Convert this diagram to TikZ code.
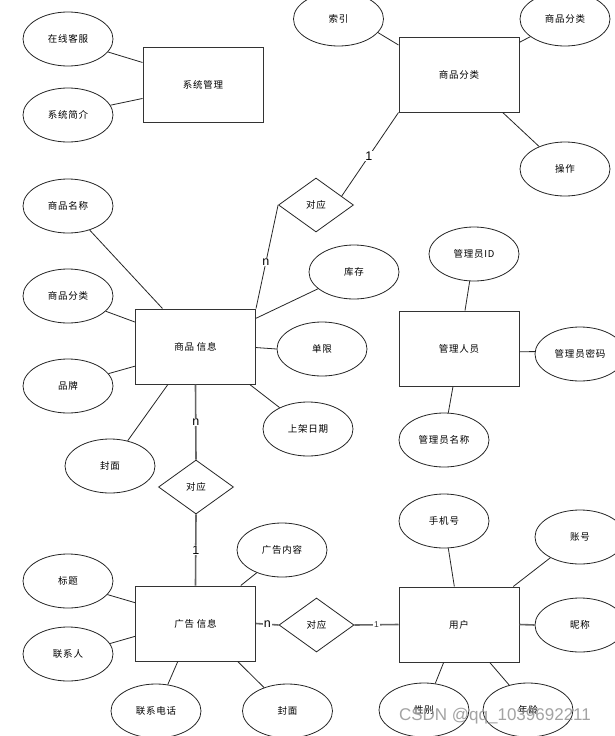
\documentclass[tikz,border=0pt]{standalone}
\usepackage{fontspec}
\newfontfamily\cjk[LetterSpace=8]{Noto Sans CJK SC}
\newfontfamily\latinfont{Liberation Sans}
\usetikzlibrary{shapes.geometric}
\tikzset{
  ent/.style={draw=black!80, line width=1pt, minimum width=120pt, minimum height=75pt, inner sep=0pt, font=\cjk\fontsize{9.5}{11}\selectfont},
  attr/.style={ellipse, draw=black!85, line width=0.8pt, minimum width=90pt, minimum height=54pt, inner sep=0pt, font=\cjk\fontsize{9.5}{11}\selectfont},
  rel/.style={diamond, aspect=1.39, draw=black!85, line width=0.8pt, minimum width=75pt, minimum height=54pt, inner sep=0pt, font=\cjk\fontsize{9.5}{11}\selectfont},
  aline/.style={draw=black!85, line width=0.8pt},
  rline/.style={draw=black!60, line width=1.6pt},
  card/.style={fill=white, inner sep=0.8pt, font=\latinfont\fontsize{12.5}{13}\selectfont, text=black},
  cardsmall/.style={fill=white, inner sep=0.8pt, font=\latinfont\fontsize{8.5}{9}\selectfont, text=black!80},
}
\begin{document}
\begin{tikzpicture}[x=1pt,y=-1pt]
\useasboundingbox[fill=white] (0,0) rectangle (615,736);

% entities
\node[ent] (sys) at (203,84.5) {系统管理};
\node[ent] (cat) at (459,74.5) {商品分类};
\node[ent] (goods) at (195.5,346.5) {商品 信息};
\node[ent] (admin) at (459,348.5) {管理人员};
\node[ent] (ad) at (195.5,623.5) {广告 信息};
\node[ent] (user) at (459,624.5) {用户};

% relationships
\node[rel] (r1) at (316,205) {对应};
\node[rel] (r2) at (196,487) {对应};
\node[rel] (r3) at (316.5,625) {对应};

% attributes
\node[attr] (kf) at (68,39) {在线客服};
\node[attr] (jj) at (68,115) {系统简介};
\node[attr] (sy) at (338.5,19) {索引};
\node[attr] (fl) at (565,19) {商品分类};
\node[attr] (cz) at (565,169) {操作};
\node[attr] (mc) at (68,206) {商品名称};
\node[attr] (gfl) at (68,296) {商品分类};
\node[attr] (pp) at (68,386) {品牌};
\node[attr] (fm) at (110,466) {封面};
\node[attr] (kc) at (354,272) {库存};
\node[attr] (dx) at (322,349) {单限};
\node[attr] (rq) at (308,429) {上架日期};
\node[attr] (aid) at (474,254) {管理员ID};
\node[attr] (amm) at (580,354) {管理员密码};
\node[attr] (amc) at (444,440) {管理员名称};
\node[attr] (bt) at (68,581) {标题};
\node[attr] (lxr) at (68,654) {联系人};
\node[attr] (dh) at (156,711) {联系电话};
\node[attr] (fm2) at (287.5,711) {封面};
\node[attr] (nr) at (282,550) {广告内容};
\node[attr] (sj) at (444,521) {手机号};
\node[attr] (zh) at (580,537) {账号};
\node[attr] (nc) at (580,625) {昵称};
\node[attr] (xb) at (424,710) {性别};
\node[attr] (nl) at (528,710) {年龄};

% attribute connectors
\draw[aline] (kf.-18) -- (sys.160.7);
\draw[aline] (jj.13) -- (sys.193);
\draw[aline] (sy.-19) -- (cat.154.2);
\draw[aline] (fl.207) -- (cat.28);
\draw[aline] (cat.-41.8) -- (cz.139.6);
\draw[aline] (mc.-48.7) -- (goods.131.7);
\draw[aline] (gfl.-22) -- (goods.158);
\draw[aline] (pp.17.6) -- (goods.198.4);
\draw[aline] (fm.55.3) -- (goods.234.2);
\draw[aline] (kc.205.3) -- (goods.25);
\draw[aline] (dx.west) -- (goods.-1.4);
\draw[aline] (rq.143) -- (goods.-35.8);
\draw[aline] (aid.261.6) -- (admin.81);
\draw[aline] (amm.177.5) -- (admin.-3.8);
\draw[aline] (amc.81.6) -- (admin.261);
\draw[aline] (bt.-19.3) -- (ad.161);
\draw[aline] (lxr.14.3) -- (ad.192.7);
\draw[aline] (dh.66) -- (ad.245);
\draw[aline] (fm2.135) -- (ad.-42.8);
\draw[aline] (nr.222.7) -- (ad.40);
\draw[aline] (sj.-81) -- (user.97.6);
\draw[aline] (zh.215) -- (user.35.8);
\draw[rline] (nc.west) -- (user.east);
\draw[aline] (xb.67) -- (user.248);
\draw[aline] (nl.127.6) -- (user.-51.3);

% relationship connectors
\draw[aline] (cat.south west) -- node[card, pos=0.52] {1} (r1.19.8);
\draw[aline] (r1.west) -- node[card, pos=0.55] {n} (goods.north east);
\draw[rline] (goods.south) -- node[card, pos=0.5] {n} (r2.north);
\draw[rline] (r2.south) -- node[card, pos=0.5] {1} (ad.north);
\draw[rline] (ad.east) -- node[card, pos=0.5] {n} (r3.west);
\draw[rline] (r3.east) -- node[cardsmall, pos=0.5] {1} (user.west);

% watermark
\node[font=\latinfont\fontsize{17}{18}\selectfont, text=black!45, opacity=0.8] (wm) at (495,716) {CSDN @qq\_1039692211};
\end{tikzpicture}
\end{document}
